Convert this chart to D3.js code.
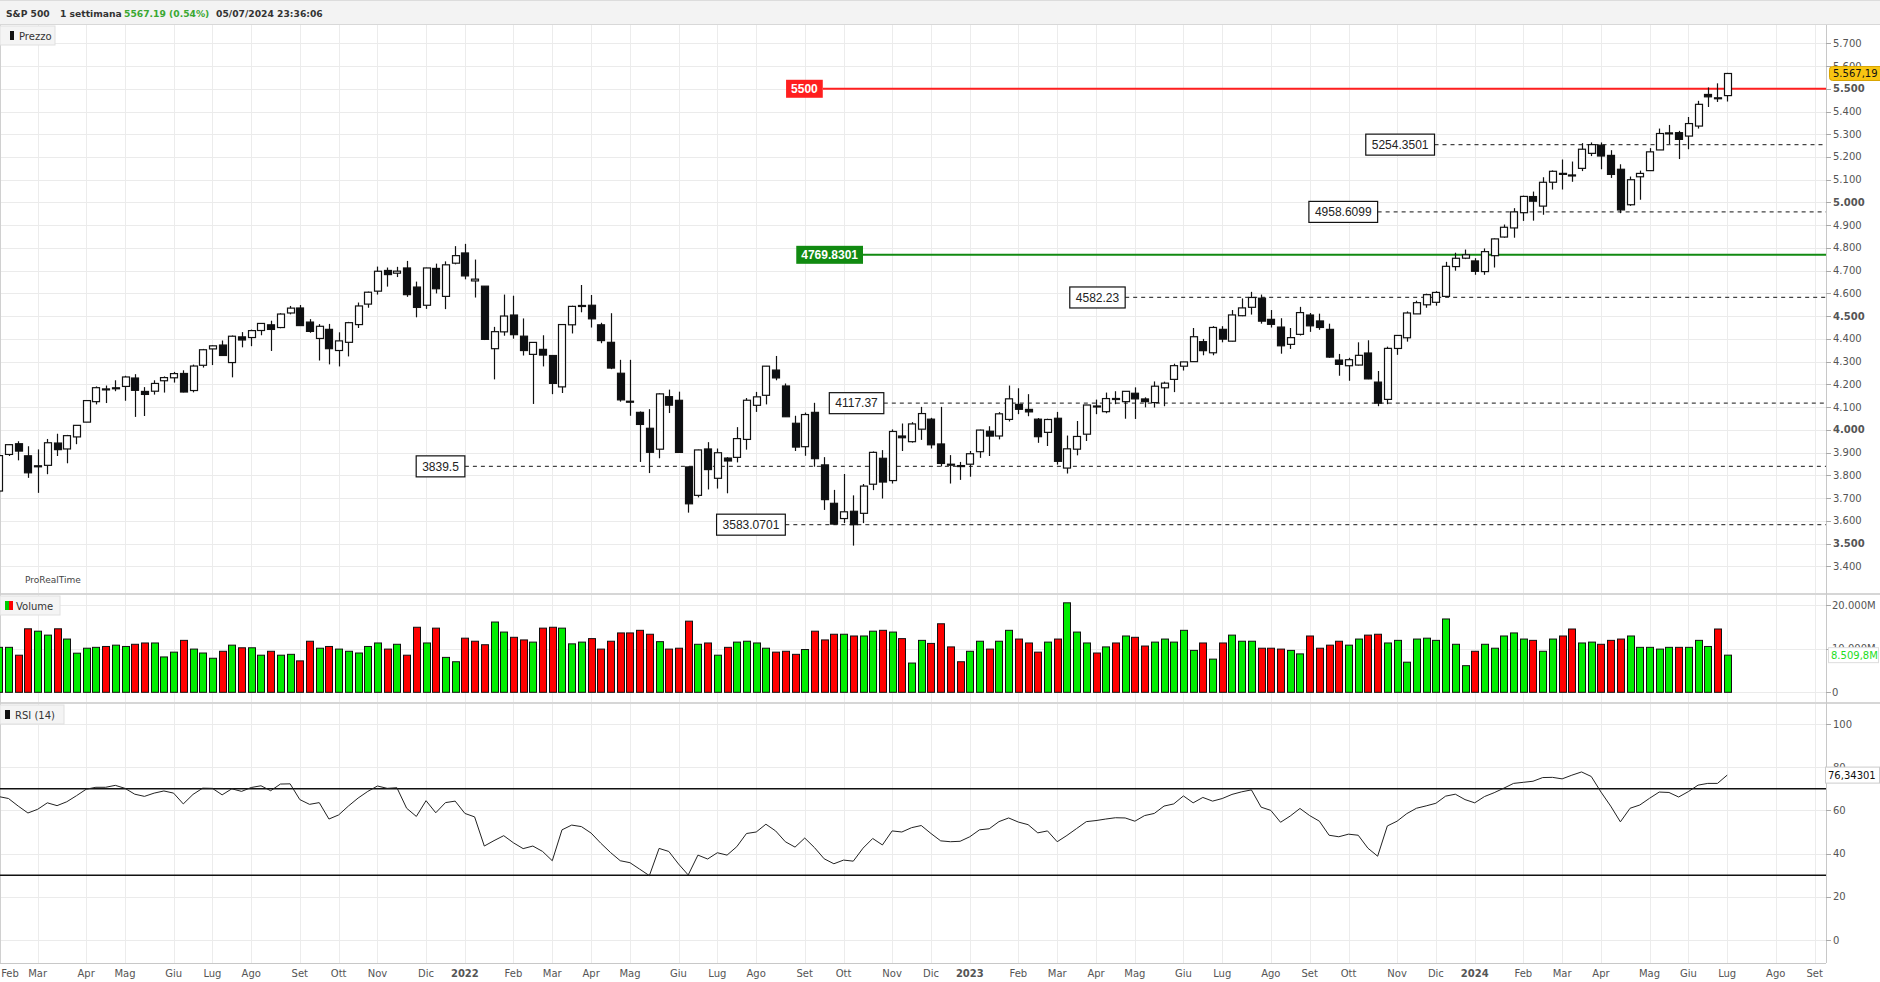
<!DOCTYPE html>
<html><head><meta charset="utf-8">
<script src="https://cdn.jsdelivr.net/npm/d3@7"></script>
<style>
body{margin:0;background:#fff;overflow:hidden}
svg{display:block;font-family:"DejaVu Sans",Verdana,sans-serif}
</style></head><body>
<svg id="c" width="1880" height="982"></svg>
<script>
// ---------- DATA ----------
const firstWeek = "2021-02-01", lastWeek = "2024-07-01";
const monthNames = ["Gen","Feb","Mar","Apr","Mag","Giu","Lug","Ago","Set","Ott","Nov","Dic"];
const open = [3731,3892,3939,3886,3842,3844,3942,3916,3969,4034,
4124,4179,4185,4191,4228,4169,4170,4216,4229,4248,
4173,4284,4356,4373,4296,4409,4406,4437,4462,4450,
4514,4536,4474,4402,4442,4349,4385,4463,4553,4610,
4701,4689,4712,4628,4548,4710,4587,4733,4778,4655,
4632,4357,4431,4505,4412,4332,4354,4327,4189,4462,
4547,4548,4462,4385,4249,4126,4077,4007,3915,4146,
4130,3837,3712,3916,3787,3876,3879,3958,4108,4152,
4263,4193,4029,3926,4077,3846,3677,3610,3642,3633,
3761,3875,3777,3973,3948,4003,4047,3938,3849,3843,
3849,3904,3994,3973,4046,4112,4090,4047,3989,4051,
3832,3915,3981,4104,4080,4138,4124,4161,4136,4120,
4185,4222,4280,4300,4388,4339,4442,4390,4502,4539,
4579,4486,4452,4376,4420,4505,4479,4442,4307,4282,
4285,4338,4210,4134,4358,4405,4510,4550,4561,4587,
4718,4755,4743,4696,4766,4848,4888,4955,5026,4984,
5089,5128,5121,5150,5216,5252,5207,5146,4990,5113,
5140,5231,5306,5307,5292,5336,5475,5460,5470];
const high = [3887,3937,3950,3928,3914,3960,3983,3978,4020,4130,
4191,4195,4218,4238,4245,4188,4218,4235,4255,4262,
4287,4356,4372,4393,4415,4430,4441,4468,4480,4513,
4545,4549,4487,4465,4466,4429,4475,4560,4608,4718,
4714,4717,4743,4652,4713,4731,4741,4808,4818,4749,
4632,4453,4595,4590,4490,4385,4416,4327,4465,4546,
4637,4593,4471,4513,4308,4308,4081,4091,4161,4177,
4168,3838,3913,3946,3918,3880,4012,4140,4167,4281,
4325,4204,4062,4076,4119,3880,3736,3806,3712,3762,
3905,3911,4002,4028,4034,4101,4053,4101,3889,3859,
3907,4001,4016,4078,4195,4183,4157,4052,4049,4079,
3975,4039,4110,4133,4164,4170,4171,4187,4143,4213,
4212,4291,4299,4448,4400,4456,4456,4527,4578,4607,
4595,4527,4491,4448,4541,4514,4511,4467,4334,4317,
4385,4394,4259,4366,4415,4521,4568,4599,4610,4739,
4779,4793,4755,4798,4842,4903,4975,5030,5048,5111,
5141,5189,5180,5261,5264,5264,5230,5168,5114,5140,
5239,5325,5341,5315,5376,5447,5506,5524,5570];
const low = [3725,3885,3866,3789,3723,3805,3885,3853,3937,4034,
4112,4118,4170,4128,4057,4061,4155,4164,4208,4165,
4165,4274,4285,4325,4231,4363,4368,4416,4347,4447,
4508,4458,4427,4305,4288,4279,4323,4448,4537,4595,
4630,4672,4585,4495,4532,4600,4531,4728,4662,4582,
4395,4222,4414,4401,4327,4114,4279,4157,4162,4424,
4517,4450,4381,4267,4124,4062,3859,3810,3875,4074,
3900,3636,3703,3738,3742,3721,3857,3913,4079,4112,
4218,4057,3907,3886,3838,3648,3584,3590,3491,3590,
3735,3698,3764,3907,3944,3956,3918,3839,3764,3780,
3794,3877,3885,3958,4037,4069,4060,3943,3929,3847,
3808,3888,3951,4069,4073,4113,4049,4048,4099,4098,
4104,4166,4261,4300,4328,4328,4385,4389,4500,4507,
4467,4450,4335,4356,4415,4431,4440,4317,4238,4216,
4283,4223,4104,4113,4330,4388,4510,4537,4546,4587,
4700,4751,4682,4682,4714,4845,4845,4919,4920,4946,
5057,5057,5091,5138,5204,5146,5108,4953,4985,5012,
5139,5231,5257,5191,5234,5325,5420,5442,5444];
const close = [3886.83,3934.83,3906.71,3811.15,3841.94,3943.34,3913.10,3974.54,4019.87,4128.80,
4185.47,4180.17,4181.17,4232.60,4173.85,4155.86,4204.11,4229.89,4247.44,4166.45,
4280.70,4352.34,4369.55,4327.16,4411.79,4395.26,4436.52,4468.00,4441.67,4509.37,
4535.43,4458.58,4432.99,4455.48,4357.04,4391.34,4471.37,4544.90,4605.38,4697.53,
4682.85,4697.96,4594.62,4538.43,4712.02,4620.64,4725.79,4766.18,4677.03,4662.85,
4397.94,4431.85,4500.53,4418.64,4348.87,4384.65,4328.87,4204.31,4463.12,4543.06,
4545.86,4488.28,4392.59,4271.78,4131.93,4123.34,4023.89,3901.36,4158.24,4108.54,
3900.86,3674.84,3911.74,3825.33,3899.38,3863.16,3961.63,4130.29,4145.19,4280.15,
4228.48,4057.66,3924.26,4067.36,3873.33,3693.23,3585.62,3639.66,3583.07,3752.75,
3901.06,3770.55,3992.93,3965.34,4026.12,4071.70,3934.38,3852.36,3844.82,3839.50,
3895.08,3999.09,3972.61,4070.56,4136.48,4090.46,4079.09,3970.04,4045.64,3861.59,
3916.64,3970.99,4109.31,4105.02,4137.64,4133.52,4169.48,4136.25,4124.08,4191.98,
4205.45,4282.37,4298.86,4409.59,4348.33,4450.38,4398.95,4505.42,4536.34,4582.23,
4478.03,4464.05,4369.71,4405.71,4515.77,4457.49,4450.32,4320.06,4288.05,4308.50,
4327.78,4224.16,4117.37,4358.34,4415.24,4514.02,4559.34,4594.63,4604.37,4719.19,
4754.63,4769.83,4697.24,4783.83,4839.81,4890.97,4958.61,5026.61,5005.57,5088.80,
5137.08,5123.69,5117.09,5234.18,5254.35,5204.34,5123.41,4967.23,5099.96,5127.79,
5222.68,5303.27,5304.72,5277.51,5346.99,5431.60,5464.62,5460.48,5567.19];
const volume = [10300,10300,8500,14550,14000,13100,14550,12200,8960,10100,
10300,10500,10800,10500,11000,11300,11300,8100,9200,11900,
9900,9000,7800,9400,10800,10200,10200,8500,9400,8500,
8700,7200,11700,10100,10500,9900,9400,9000,10500,11300,
9900,11000,8500,14900,11300,14700,8000,7000,12400,11700,
10900,16100,13800,12600,12000,11500,14700,14900,14700,11100,
11500,12300,9900,11700,13600,13600,14200,13300,11600,9900,
10100,16300,11000,11300,8500,10300,11500,11700,11300,10100,
9200,9400,8700,9800,14000,12000,13300,13300,12900,12900,
14000,14200,13800,12300,6700,11900,11200,15700,10400,7000,
9400,11700,9900,11700,14200,12200,11300,9200,11500,12200,
20500,13800,11300,9000,10400,11300,12900,12600,10600,11500,
12200,11500,14200,9600,11300,7600,11300,13100,11700,11700,
10100,10100,9900,9600,8800,12900,10100,10800,11700,10800,
12200,13100,13300,11300,11900,6900,12200,12400,11900,16800,
11000,6100,9400,11000,10100,12900,13600,12200,11900,9400,
12200,12900,14500,11300,11500,11000,11900,12200,12900,10300,
10300,9900,10300,10300,10300,11900,10500,14500,8509.8];
const rsi = [66.4,65.5,62,58.8,60.5,63.5,62.2,64,66.8,69.8,
70.7,70.7,71.6,70.2,67.5,66.5,68,69,68,63,
67.4,70.3,70.2,67.2,70,68.8,70.6,71.4,69.1,72.2,
72.3,65,62.8,63.6,56,57.9,62,65.7,68.8,71.3,
70.2,70.5,61,57.2,64.5,58.9,63.6,64.3,58.6,57,
43.5,46,48.3,45,42.3,43.5,41,36.7,51,53.2,
52.5,49.5,44.8,40.5,36.7,35.8,32.8,29.8,42.4,41,
35.2,30.1,39.3,37.5,40.4,39.3,43.2,49.3,50,53.6,
50.5,45.5,43,47.2,42.8,37.6,35.3,37,36.5,42.5,
47,44,50.5,50,52,53,49.3,45.9,45.5,45.7,
47.8,51,51.5,54.8,56.5,54.6,53.4,49.6,50.5,45.5,
48.4,51.6,54.8,55.3,56,56.6,56.5,55,57.6,58.6,
62,63,66.7,63.5,66,64.3,65.5,67.4,68.6,69.5,
61.5,60,54.5,57.4,60.9,57.6,55,48.5,47.8,49,
48.5,42.5,38.8,52.8,55,58.5,61,62.1,63.3,66.6,
67.5,65,63.5,66.4,68.2,70.3,72.5,73,73.5,75.2,
75.3,74.6,76.3,77.8,75.7,68.5,62,54.7,61,62.5,
65.6,68.5,68.3,66.2,68.7,71.7,72.5,72.5,76.34301];
const priceTicks = d3.range(3400, 5701, 100);
const volumeTicks = [0, 10000, 20000];
const rsiTicks = [0, 20, 40, 60, 80, 100];
const rsiLevels = [30, 70];
const levelValues = [5500, 5254.3501, 4958.6099, 4769.8301, 4582.23, 4117.37, 3839.5, 3583.0701];
const levelLabels = ["5500", "5254.3501", "4958.6099", "4769.8301", "4582.23", "4117.37", "3839.5", "3583.0701"];
const levelKinds = ["red", "dash", "dash", "green", "dash", "dash", "dash", "dash"];
const levelStarts = ["2022-09-18", "2023-12-03", "2023-10-23", "2022-10-17", "2023-04-24", "2022-11-01", "2022-01-03", "2022-08-22"];
const headerTexts = ["S&P 500", "1 settimana", "5567.19 (0.54%)", "05/07/2024 23:36:06"];

// ---------- LAYOUT ----------
const svg = d3.select("#c");
const W = 1880, plotR = 1826;
const P = {top: 25, bot: 593}, V = {top: 595, bot: 702}, R = {top: 704, bot: 963};
const itLocale = d3.formatLocale({decimal: ",", thousands: ".", grouping: [3], currency: ["€", ""]});
const fInt = itLocale.format(",d"), f2 = itLocale.format(",.2f"), f1 = itLocale.format(",.1f"), f5 = itLocale.format(".5f");
const parse = d3.utcParse("%Y-%m-%d");
const weeks = d3.utcMonday.range(parse(firstWeek), d3.utcDay.offset(parse(lastWeek), 1));
const x = d3.scaleUtc().domain([parse(firstWeek), parse(lastWeek)]).range([-1.2, 1727.2]);
const y = d3.scaleLinear().domain([3400, 5700]).range([566.3, 43.3]);
const yv = d3.scaleLinear().domain([0, 20000]).range([692.3, 605]);
const yr = d3.scaleLinear().domain([0, 100]).range([940, 724]);
const months = d3.utcMonth.range(parse("2021-02-01"), parse("2024-10-01")).map(m => ({m, d: d3.utcMonday.ceil(m)}));
const px = v => Math.round(v) + 0.5;

// background & header
svg.append("rect").attr("width", W).attr("height", 982).attr("fill", "#fff");
svg.append("rect").attr("width", W).attr("height", P.top).attr("fill", "#f3f3f3");
svg.append("line").attr("x1", 0).attr("x2", W).attr("y1", 0.5).attr("y2", 0.5).attr("stroke", "#dcdcdc");
svg.append("line").attr("x1", 0).attr("x2", W).attr("y1", P.top - 0.5).attr("y2", P.top - 0.5).attr("stroke", "#d8d8d8");
const hx = [6, 60, 124, 216], hc = ["#333", "#333", "#3aa832", "#333"];
headerTexts.forEach((t, i) => svg.append("text").attr("x", hx[i]).attr("y", 17).attr("font-size", 9.2).attr("font-weight", "bold").attr("fill", hc[i]).text(t));

// clips
const defs = svg.append("defs");
[["cp", P], ["cv", V], ["cr", R]].forEach(([id, p]) => defs.append("clipPath").attr("id", id).append("rect").attr("x", 0).attr("y", p.top).attr("width", plotR).attr("height", p.bot - p.top));

// vertical grid in all panels
[P, V, R].forEach(p => {
  svg.append("g").selectAll("line").data(months).join("line")
    .attr("x1", d => px(x(d.d))).attr("x2", d => px(x(d.d))).attr("y1", p.top).attr("y2", p.bot)
    .attr("stroke", "#ececec");
});
// horizontal grid
svg.append("g").selectAll("line").data(priceTicks).join("line").attr("x1", 0).attr("x2", plotR)
  .attr("y1", d => px(y(d))).attr("y2", d => px(y(d))).attr("stroke", "#ebebeb");
svg.append("g").selectAll("line").data(volumeTicks).join("line").attr("x1", 0).attr("x2", plotR)
  .attr("y1", d => px(yv(d))).attr("y2", d => px(yv(d))).attr("stroke", "#ebebeb");
svg.append("g").selectAll("line").data(rsiTicks).join("line").attr("x1", 0).attr("x2", plotR)
  .attr("y1", d => px(yr(d))).attr("y2", d => px(yr(d))).attr("stroke", "#ebebeb");

// panel separators
[P.bot + 1, V.bot + 1].forEach(v => svg.append("rect").attr("x", 0).attr("y", v - 1).attr("width", W).attr("height", 2).attr("fill", "#d6d6d6"));
svg.append("line").attr("x1", px(plotR)).attr("x2", px(plotR)).attr("y1", P.top).attr("y2", R.bot).attr("stroke", "#c8c8c8");
svg.append("line").attr("x1", 0).attr("x2", plotR).attr("y1", px(R.bot)).attr("y2", px(R.bot)).attr("stroke", "#c8c8c8");
svg.append("line").attr("x1", 0.5).attr("x2", 0.5).attr("y1", P.top).attr("y2", R.bot).attr("stroke", "#d0d0d0");

// ---------- PRICE PANEL ----------
const gp = svg.append("g").attr("clip-path", "url(#cp)");
const idx = d3.range(weeks.length);
levelValues.forEach((v, i) => {
  const xs = x(parse(levelStarts[i])), yy = y(v);
  const k = levelKinds[i];
  if (k === "dash") {
    gp.append("line").attr("x1", xs).attr("x2", plotR).attr("y1", yy).attr("y2", yy)
      .attr("stroke", "#444").attr("stroke-width", 1.3).attr("stroke-dasharray", "4,4");
  } else {
    gp.append("line").attr("x1", xs).attr("x2", plotR).attr("y1", yy).attr("y2", yy)
      .attr("stroke", k === "red" ? "#ff1f1f" : "#118a11").attr("stroke-width", 2);
  }
});
const cg = gp.append("g");
cg.selectAll("line.w").data(idx).join("line").attr("class", "w")
  .attr("x1", i => px(x(weeks[i]))).attr("x2", i => px(x(weeks[i])))
  .attr("y1", i => y(high[i])).attr("y2", i => y(low[i])).attr("stroke", "#111").attr("stroke-width", 1.2);
cg.selectAll("rect").data(idx).join("rect")
  .attr("x", i => Math.round(x(weeks[i]) - 3.5) + 0.5).attr("width", 7)
  .attr("y", i => y(Math.max(open[i], close[i])))
  .attr("height", i => Math.max(1, y(Math.min(open[i], close[i])) - y(Math.max(open[i], close[i]))))
  .attr("fill", i => close[i] >= open[i] ? "#fff" : "#0d0f12").attr("stroke", "#111").attr("stroke-width", 1.2);
levelValues.forEach((v, i) => {
  const xs = x(parse(levelStarts[i])), yy = y(v), k = levelKinds[i];
  const g = gp.append("g");
  const t = g.append("text").attr("font-family", "Arial, 'Liberation Sans', sans-serif").attr("font-size", 12)
    .attr("font-weight", k === "dash" ? "normal" : "bold").attr("fill", k === "dash" ? "#222" : "#fff").text(levelLabels[i]);
  const w = t.node().getComputedTextLength();
  const pad = k === "dash" ? 6 : 5, h = k === "dash" ? 21 : 18;
  g.insert("rect", "text").attr("x", xs - w - 2 * pad).attr("y", yy - h / 2).attr("width", w + 2 * pad).attr("height", h)
    .attr("fill", k === "dash" ? "#fff" : (k === "red" ? "#ff1f1f" : "#118a11"))
    .attr("stroke", k === "dash" ? "#111" : "none").attr("stroke-width", 1.2);
  t.attr("x", xs - w - pad).attr("y", yy + 4.3);
});
const lg = svg.append("g");
lg.append("rect").attr("x", 0).attr("y", 26).attr("width", 55).attr("height", 19).attr("fill", "#f4f4f4").attr("stroke", "#e0e0e0");
lg.append("rect").attr("x", 10).attr("y", 31).attr("width", 4).attr("height", 9).attr("fill", "#111");
lg.append("text").attr("x", 19).attr("y", 40).attr("font-size", 10).attr("fill", "#333").text("Prezzo");
svg.append("text").attr("x", 25).attr("y", 583).attr("font-size", 9).attr("fill", "#444").text("ProRealTime");

const ax = svg.append("g");
ax.selectAll("line").data(priceTicks).join("line").attr("x1", plotR).attr("x2", plotR + 5)
  .attr("y1", d => px(y(d))).attr("y2", d => px(y(d))).attr("stroke", "#aaa");
ax.selectAll("text").data(priceTicks).join("text").attr("x", 1833).attr("y", d => y(d) + 3.5)
  .attr("font-size", 10).attr("fill", "#555").attr("font-weight", d => d % 500 === 0 ? "bold" : "normal").text(d => fInt(d));
const last = close[close.length - 1];
const tag = svg.append("g");
tag.append("rect").attr("x", 1829.5).attr("y", y(last) - 7).attr("width", 56).attr("height", 14).attr("rx", 3)
  .attr("fill", "#f8c512").attr("stroke", "#d9a400");
tag.append("text").attr("x", 1833).attr("y", y(last) + 4).attr("font-size", 10).attr("fill", "#111").text(f2(last));

// ---------- VOLUME PANEL ----------
const gv = svg.append("g").attr("clip-path", "url(#cv)");
gv.selectAll("rect").data(idx).join("rect")
  .attr("x", i => Math.round(x(weeks[i]) - 3.5) + 0.5).attr("width", 7)
  .attr("y", i => yv(volume[i])).attr("height", i => yv(0) - yv(volume[i]))
  .attr("fill", i => (i === 0 || close[i] >= close[i - 1]) ? "#00ee00" : "#ff0000").attr("stroke", "#111").attr("stroke-width", 1);
const vl = svg.append("g");
vl.append("rect").attr("x", 0).attr("y", 596).attr("width", 60).attr("height", 19).attr("fill", "#f4f4f4").attr("stroke", "#e0e0e0");
vl.append("rect").attr("x", 5).attr("y", 601).attr("width", 4).attr("height", 9).attr("fill", "#00cc00");
vl.append("rect").attr("x", 9).attr("y", 601).attr("width", 4).attr("height", 9).attr("fill", "#ff0000");
vl.append("text").attr("x", 16).attr("y", 610).attr("font-size", 10).attr("fill", "#333").text("Volume");
const av = svg.append("g");
av.selectAll("line").data(volumeTicks).join("line").attr("x1", plotR).attr("x2", plotR + 5)
  .attr("y1", d => px(yv(d))).attr("y2", d => px(yv(d))).attr("stroke", "#aaa");
av.selectAll("text").data(volumeTicks).join("text").attr("x", 1832).attr("y", d => yv(d) + 3.5)
  .attr("font-size", 10).attr("fill", "#555").text(d => d === 0 ? "0" : fInt(d) + "M");
const lv = volume[volume.length - 1];
av.append("rect").attr("x", 1828.5).attr("y", yv(lv) - 7.5).attr("width", 50).attr("height", 15).attr("fill", "#fff").attr("stroke", "#ddd");
av.append("text").attr("x", 1831).attr("y", yv(lv) + 4).attr("font-size", 10).attr("fill", "#22dd22").text(f1(lv) + "M");

// ---------- RSI PANEL ----------
const gr = svg.append("g").attr("clip-path", "url(#cr)");
rsiLevels.forEach(v => gr.append("line").attr("x1", 0).attr("x2", plotR).attr("y1", yr(v)).attr("y2", yr(v)).attr("stroke", "#111").attr("stroke-width", 1.5));
gr.append("path").datum(idx).attr("fill", "none").attr("stroke", "#222").attr("stroke-width", 1)
  .attr("d", d3.line().x(i => x(weeks[i])).y(i => yr(rsi[i])));
const rl = svg.append("g");
rl.append("rect").attr("x", 0).attr("y", 705).attr("width", 64).attr("height", 19).attr("fill", "#f4f4f4").attr("stroke", "#e0e0e0");
rl.append("rect").attr("x", 5).attr("y", 710).attr("width", 5).attr("height", 9).attr("fill", "#111");
rl.append("text").attr("x", 15).attr("y", 719).attr("font-size", 10).attr("fill", "#333").text("RSI (14)");
const ar = svg.append("g");
ar.selectAll("line").data(rsiTicks).join("line").attr("x1", plotR).attr("x2", plotR + 5)
  .attr("y1", d => px(yr(d))).attr("y2", d => px(yr(d))).attr("stroke", "#aaa");
ar.selectAll("text").data(rsiTicks).join("text").attr("x", 1833).attr("y", d => yr(d) + 3.5)
  .attr("font-size", 10).attr("fill", "#555").text(d => d);
const lr = rsi[rsi.length - 1];
ar.append("rect").attr("x", 1825.5).attr("y", yr(lr) - 8).attr("width", 54).attr("height", 16).attr("fill", "#fff").attr("stroke", "#ccc");
ar.append("text").attr("x", 1828).attr("y", yr(lr) + 4).attr("font-size", 10).attr("fill", "#111").text(f5(lr));

// ---------- X AXIS ----------
svg.append("g").selectAll("text").data(months).join("text")
  .attr("x", d => Math.max(x(d.d), 10)).attr("y", 977).attr("text-anchor", "middle").attr("font-size", 10)
  .attr("fill", "#555").attr("font-weight", d => d.m.getUTCMonth() === 0 ? "bold" : "normal")
  .text(d => d.m.getUTCMonth() === 0 ? d.m.getUTCFullYear() : monthNames[d.m.getUTCMonth()]);
</script>
</body></html>
